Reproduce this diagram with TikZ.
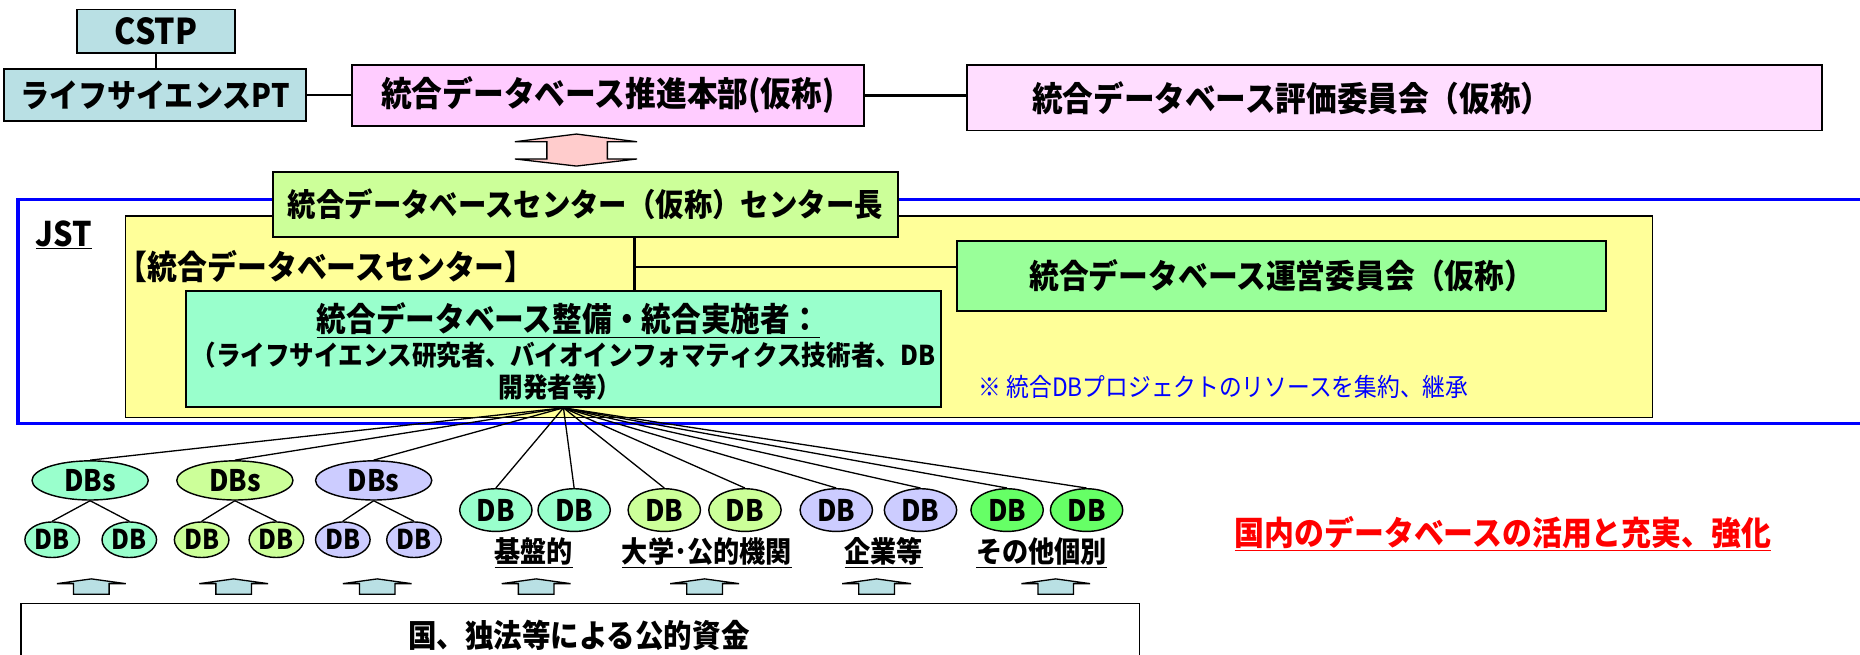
\documentclass[tikz,border=0pt]{standalone}
\usepackage{fontspec}
\setmainfont{Noto Sans CJK JP}[FakeStretch=0.9]
\usetikzlibrary{shapes.geometric}
\definecolor{cblue}{RGB}{185,224,228}
\definecolor{cpink}{RGB}{255,204,255}
\definecolor{cpinkl}{RGB}{255,221,255}
\definecolor{cgreenl}{RGB}{204,255,153}
\definecolor{cyellow}{RGB}{255,255,153}
\definecolor{cgreen}{RGB}{153,255,153}
\definecolor{caqua}{RGB}{153,255,204}
\definecolor{clav}{RGB}{204,204,255}
\definecolor{cgreenb}{RGB}{102,255,102}
\definecolor{carrow}{RGB}{255,204,204}
\newcommand\fsz[1]{\fontsize{#1}{#1}\selectfont}
\begin{document}
\begin{tikzpicture}[x=1pt,y=-1pt,
  box/.style={draw=black, line width=1.6pt, inner sep=0pt, align=center, font=\bfseries\fsz{28}},
  lbl/.style={inner sep=0pt, font=\bfseries\fsz{27}},
  ell/.style={ellipse, draw=black, line width=1.2pt, inner sep=0pt, font=\bfseries\fsz{25}},
  dbs/.style={ell, minimum width=98, minimum height=33},
  dbc/.style={ell, minimum width=46, minimum height=30, font=\bfseries\fsz{23}},
  dbp/.style={ell, minimum width=61, minimum height=36, font=\bfseries\fsz{25}},
  grp/.style={inner sep=0pt, font=\bfseries\fsz{24.5}},
  conn/.style={draw=black, line width=1.6pt},
  fan/.style={draw=black, line width=1.1pt},
  uparr/.pic={\draw[line width=1.1pt, fill=cblue, line join=miter]
     (0,-13) -- (29,-9) -- (15,-9) -- (15,0) -- (-15,0) -- (-15,-9) -- (-29,-9) -- cycle;}
]
\useasboundingbox (0,0) rectangle (1568,552);
\clip (0,0) rectangle (1568,552);

% top row
\node[box, fill=cblue, minimum width=133, minimum height=37, font=\bfseries\fsz{30}] (cstp) at (131.5,26.5) {CSTP};
\node[box, fill=cblue, minimum width=255, minimum height=44, font=\bfseries\fsz{27.2}] (pt) at (130.5,80) {ライフサイエンスPT};
\node[box, fill=cpink, minimum width=431, minimum height=51, font=\bfseries\fsz{28.8}] (honbu) at (512.5,80.5) {統合データベース推進本部(仮称)};
\node[box, fill=cpinkl, minimum width=721, minimum height=55] (hyoka) at (1175.5,82.5) {};
\node[lbl, font=\bfseries\fsz{28.7}] (hyokat) at (1089,82.5) {統合データベース評価委員会（仮称）};
\draw[conn] (cstp.south) -- (cstp.south |- pt.north);
\draw[conn] (pt.east) -- (pt.east -| honbu.west);
\draw[conn, line width=2.6pt] (honbu.east) -- (honbu.east -| hyoka.west);

% up-down arrow
\draw[line width=1.1pt, fill=carrow, line join=miter]
  (486,113) -- (537,119.5) -- (512,119.5) -- (512,134) -- (537,134) -- (486,140)
  -- (434,134) -- (461,134) -- (461,119.5) -- (434,119.5) -- cycle;

% JST frame
\draw[blue, line width=3pt] (15,168) rectangle (1600,357);
\node[lbl, anchor=west, font=\bfseries\fsz{28.6}] (jst) at (30,198) {\underline{JST}};
\draw[black, line width=1.2pt, fill=cyellow] (106,182) rectangle (1393,352);

\node[box, fill=cgreenl, minimum width=527, minimum height=55, font=\bfseries\fsz{26.6}] (center) at (493.5,172.5) {統合データベースセンター（仮称）センター長};
\node[lbl, anchor=west, font=\bfseries\fsz{28}] (ctr) at (99,225) {【統合データベースセンター】};
\node[box, fill=cgreen, minimum width=547, minimum height=59, font=\bfseries\fsz{27.9}] (unei) at (1080.5,232.5) {統合データベース運営委員会（仮称）};
\node[box, fill=caqua, minimum width=636, minimum height=98] (seibi) at (475,294) {};
\node[lbl, font=\bfseries\fsz{27.8}] (s1) at (479,270) {\underline{統合データベース整備・統合実施者：}};
\node[lbl, font=\bfseries\fsz{23}] (s2) at (475,299) {（ライフサイエンス研究者、バイオインフォマティクス技術者、DB};
\node[lbl, font=\bfseries\fsz{23}] (s3) at (472,326) {開発者等）};
\node[inner sep=0pt, text=blue, font=\fsz{21.3}, anchor=west] (note) at (825,326) {※ 統合DBプロジェクトのリソースを集約、継承};

\coordinate (vx) at (535,0);
\coordinate (hj) at (535,225);
\draw[conn, line width=2pt] (center.south -| vx) -- (seibi.north -| vx);
\draw[conn, line width=2pt] (hj) -- (hj -| unei.west);

% databases
\node[dbs, fill=caqua] (dbs1) at (76,405) {DBs};
\node[dbs, fill=cgreenl] (dbs2) at (198,405) {DBs};
\node[dbs, fill=clav] (dbs3) at (315,405) {DBs};
\node[dbc, fill=caqua] (c11) at (44,455) {DB};
\node[dbc, fill=caqua] (c12) at (109,455) {DB};
\node[dbc, fill=cgreenl] (c21) at (170,455) {DB};
\node[dbc, fill=cgreenl] (c22) at (233,455) {DB};
\node[dbc, fill=clav] (c31) at (289,455) {DB};
\node[dbc, fill=clav] (c32) at (349,455) {DB};
\foreach \p/\c in {dbs1/c11,dbs1/c12,dbs2/c21,dbs2/c22,dbs3/c31,dbs3/c32}
  \draw[fan] (\p.south) -- (\c.north);

\node[dbp, fill=caqua] (k1) at (418,430) {DB};
\node[dbp, fill=caqua] (k2) at (484,430) {DB};
\node[dbp, fill=cgreenl] (u1) at (560,430) {DB};
\node[dbp, fill=cgreenl] (u2) at (628,430) {DB};
\node[dbp, fill=clav] (e1) at (705,430) {DB};
\node[dbp, fill=clav] (e2) at (776,430) {DB};
\node[dbp, fill=cgreenb] (o1) at (849,430) {DB};
\node[dbp, fill=cgreenb] (o2) at (916,430) {DB};
\node[grp] (gk) at (450,466) {\underline{基盤的}};
\node[grp] (gu) at (596,466) {\underline{大学･公的機関}};
\node[grp] (ge) at (745,466) {\underline{企業等}};
\node[grp] (go) at (878,466) {\underline{その他個別}};

\foreach \d in {dbs1,dbs2,dbs3,k1,k2,u1,u2,e1,e2,o1,o2}
  \draw[fan] (seibi.south) -- (\d.north);

\node[inner sep=0pt, text=red, font=\bfseries\fsz{28}] (red) at (1267,450) {\underline{国内のデータベースの活用と充実、強化}};

% funding
\foreach \x in {77,197,318,452,594,739,890}
  \pic at (\x,501) {uparr};
\node[draw=black, line width=1.2pt, minimum width=943, minimum height=80, anchor=north west, inner sep=0pt] (fund) at (17,508) {};
\node[lbl, font=\bfseries\fsz{26.7}] (fundt) at (488,536) {国、独法等による公的資金};
\end{tikzpicture}
\end{document}
